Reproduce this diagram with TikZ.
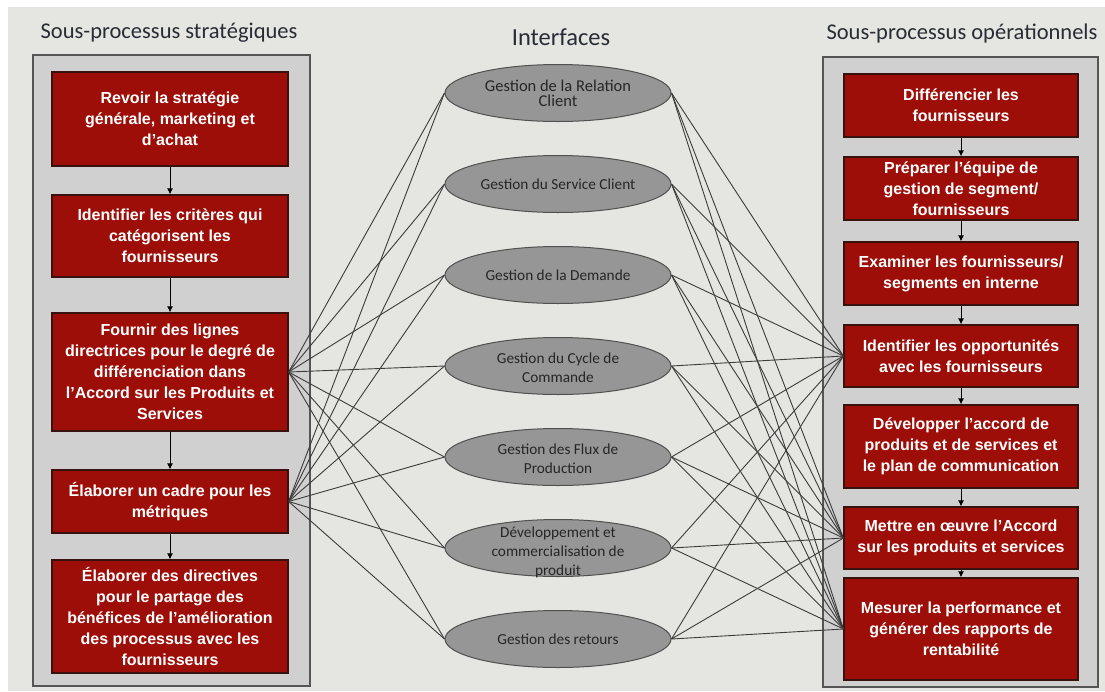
\documentclass[tikz,border=0pt]{standalone}
\usepackage{fontspec}
\usetikzlibrary{shapes.geometric,arrows.meta}
\newfontfamily\headfont{Carlito}
\newfontfamily\boxfont{Liberation Sans}
\definecolor{pagebg}{RGB}{229,229,225}
\definecolor{panelfill}{RGB}{208,208,208}
\definecolor{panelline}{RGB}{85,85,85}
\definecolor{procred}{RGB}{158,14,8}
\definecolor{procline}{RGB}{55,18,15}
\definecolor{ifacefill}{RGB}{150,150,150}
\definecolor{ifaceline}{RGB}{80,80,80}
\definecolor{headtext}{RGB}{40,44,52}
\definecolor{linkcol}{RGB}{60,60,60}
\tikzset{
  panel/.style={draw=panelline, fill=panelfill, line width=1.4pt},
  proc/.style={rectangle, draw=procline, fill=procred, line width=1.2pt,
    text=white, align=center, inner sep=2pt,
    font=\boxfont\bfseries\fontsize{16}{21}\selectfont},
  lproc/.style={proc, minimum width=236pt},
  rproc/.style={proc, minimum width=234pt},
  iface/.style={ellipse, draw=ifaceline, fill=ifacefill, line width=1pt,
    minimum width=226pt, minimum height=57pt, inner sep=0pt},
  ifacetext/.style={align=center, text=black!85,
    font=\headfont\fontsize{15.3}{19}\selectfont},
  head/.style={text=headtext, font=\headfont\fontsize{22.5}{26}\selectfont},
  flow/.style={-{Latex[length=6pt,width=6pt]}, line width=1pt, black},
  link/.style={draw=linkcol, line width=0.9pt}
}
\begin{document}
\begin{tikzpicture}[x=1pt,y=-1pt]
\useasboundingbox (0,0) rectangle (1105,691);
% page
\fill[white] (0,0) rectangle (1105,691);
\fill[pagebg] (8,7) rectangle (1105,691);

% column titles
\node[head] (hleft) at (169,33) {Sous-processus stratégiques};
\node[head, font=\headfont\fontsize{24.5}{28}\selectfont] (hmid) at (561,37) {Interfaces};
\node[head] (hright) at (962,33) {Sous-processus opérationnels};

% panels
\draw[panel] (33,55) rectangle (310,686);
\draw[panel] (823,57) rectangle (1098,687);

% interfaces (shapes)
\node[iface] (e1) at (558,93) {};
\node[iface] (e2) at (558,184) {};
\node[iface] (e3) at (558,275) {};
\node[iface] (e4) at (558,366) {};
\node[iface] (e5) at (558,457) {};
\node[iface] (e6) at (558,548) {};
\node[iface] (e7) at (558,639) {};

% strategic sub-processes
\node[lproc, minimum height=94pt] (l1) at (170,119) {Revoir la stratégie\\générale, marketing et\\d’achat};
\node[lproc, minimum height=82pt] (l2) at (170,236) {Identifier les critères qui\\catégorisent les\\fournisseurs};
\node[lproc, minimum height=118pt] (l3) at (170,372) {Fournir des lignes\\directrices pour le degré de\\différenciation dans\\l’Accord sur les Produits et\\Services};
\node[lproc, minimum height=63pt] (l4) at (170,501.5) {Élaborer un cadre pour les\\métriques};
\node[lproc, minimum height=113pt] (l5) at (170,616.5) {Élaborer des directives\\pour le partage des\\bénéfices de l’amélioration\\des processus avec les\\fournisseurs};

% operational sub-processes
\node[rproc, minimum height=63pt] (r1) at (961,105.5) {Différencier les\\fournisseurs};
\node[rproc, minimum height=63pt] (r2) at (961,188.5) {Préparer l’équipe de\\gestion de segment/\\fournisseurs};
\node[rproc, minimum height=63pt] (r3) at (961,273.5) {Examiner les fournisseurs/\\segments en interne};
\node[rproc, minimum height=62pt] (r4) at (961,356) {Identifier les opportunités\\avec les fournisseurs};
\node[rproc, minimum height=83pt] (r5) at (961,446.5) {Développer l’accord de\\produits et de services et\\le plan de communication};
\node[rproc, minimum height=62pt] (r6) at (961,538) {Mettre en œuvre l’Accord\\sur les produits et services};
\node[rproc, minimum height=102pt] (r7) at (961,629) {Mesurer la performance et\\générer des rapports de\\rentabilité};

% links between sub-processes and interfaces
\foreach \e in {e1,e2,e3,e4,e5,e6,e7}{
  \draw[link] (l3.east) -- (\e.west);
  \draw[link] (l4.east) -- (\e.west);
  \draw[link] (\e.east) -- (r4.west);
  \draw[link] (\e.east) -- (r6.west);
  \draw[link] (\e.east) -- (r7.west);
}

% interface labels
\node[ifacetext, font=\headfont\fontsize{16.5}{15}\selectfont] (t1) at (e1) {Gestion de la Relation\\Client};
\node[ifacetext] (t2) at (e2) {Gestion du Service Client};
\node[ifacetext] (t3) at (e3) {Gestion de la Demande};
\node[ifacetext] (t4) at ([yshift=-2pt]e4.center) {Gestion du Cycle de\\Commande};
\node[ifacetext] (t5) at ([yshift=-2pt]e5.center) {Gestion des Flux de\\Production};
\node[ifacetext] (t6) at ([yshift=-4pt]e6.center) {Développement et\\commercialisation de\\produit};
\node[ifacetext] (t7) at (e7) {Gestion des retours};

% sequence arrows
\draw[flow] (l1) -- (l2);
\draw[flow] (l2) -- (l3);
\draw[flow] (l3) -- (l4);
\draw[flow] (l4) -- (l5);
\draw[flow] (r1) -- (r2);
\draw[flow] (r2) -- (r3);
\draw[flow] (r3) -- (r4);
\draw[flow] (r4) -- (r5);
\draw[flow] (r5) -- (r6);
\draw[flow] (r6) -- (r7);
\end{tikzpicture}
\end{document}
